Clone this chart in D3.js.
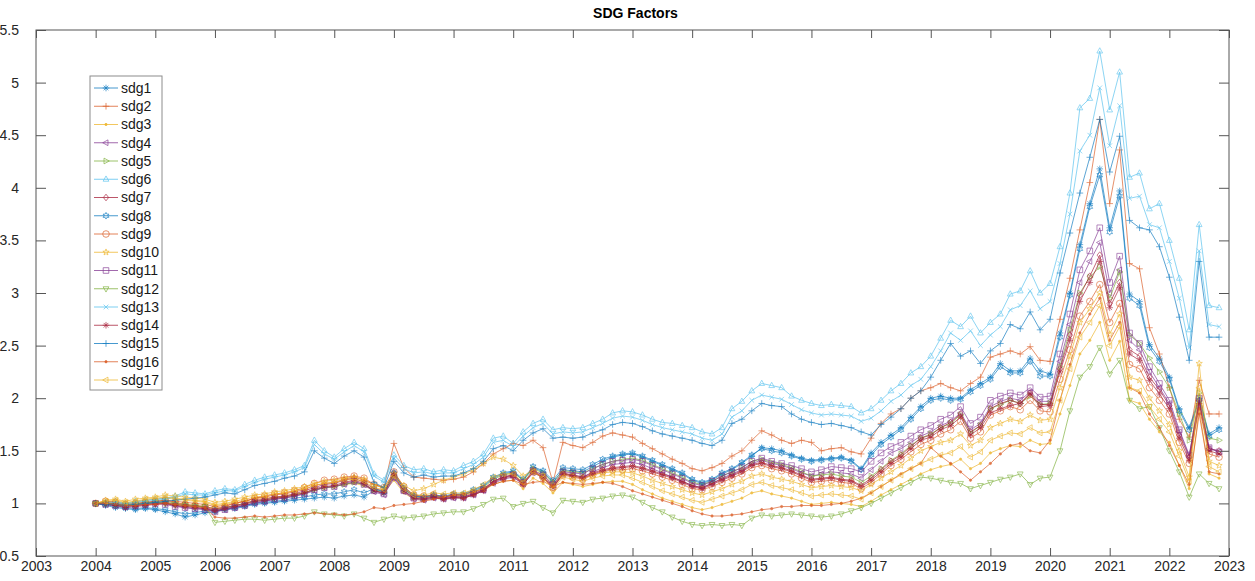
<!DOCTYPE html>
<html>
<head>
<meta charset="utf-8">
<script src="https://cdn.jsdelivr.net/npm/d3@7"></script>
<style>
  body { margin: 0; background: #fff; }
  svg { display: block; font-family: "Liberation Sans", Arial, Helvetica, sans-serif; }
</style>
</head>
<body>
<svg width="1255" height="581"></svg>
<script>
var width = 1255;
var height = 581;

// every series is sampled 6 times a year, starting January 2004
var startYear = 2004;
var pointsPerYear = 6;

var sdg1 = [
  1.00, 0.98, 0.96, 0.95, 0.94, 0.95,
  0.94, 0.92, 0.90, 0.87, 0.89, 0.91,
  0.92, 0.94, 0.95, 0.97, 0.99, 1.00,
  1.01, 1.02, 1.03, 1.04, 1.05, 1.06,
  1.05, 1.07, 1.08, 1.06, 1.12, 1.10,
  1.30, 1.15, 1.08, 1.06, 1.08, 1.06,
  1.08, 1.08, 1.12, 1.16, 1.24, 1.28,
  1.30, 1.22, 1.34, 1.30, 1.20, 1.32,
  1.31, 1.30, 1.35, 1.40, 1.44, 1.46,
  1.47, 1.44, 1.40, 1.36, 1.32, 1.28,
  1.22, 1.19, 1.22, 1.28, 1.32, 1.38,
  1.45, 1.53, 1.52, 1.50, 1.46, 1.43,
  1.41, 1.42, 1.43, 1.44, 1.41, 1.33,
  1.48, 1.58, 1.65, 1.72, 1.82, 1.92,
  2.00, 2.02, 2.00, 2.00, 2.08, 2.14,
  2.20, 2.33, 2.26, 2.26, 2.38, 2.26,
  2.23, 2.62, 3.00, 3.46, 3.85, 4.18,
  3.62, 3.97, 2.99, 2.92, 2.51, 2.38,
  2.20, 1.90, 1.72, 2.00, 1.66, 1.72
];
var sdg2 = [
  1.00, 1.01, 1.00, 0.99, 1.00, 1.01,
  1.02, 1.03, 1.02, 1.01, 1.00, 0.99,
  0.97, 0.98, 1.00, 1.02, 1.05, 1.06,
  1.08, 1.09, 1.11, 1.13, 1.17, 1.19,
  1.20, 1.23, 1.25, 1.22, 1.18, 1.15,
  1.57, 1.34, 1.25, 1.24, 1.23, 1.22,
  1.23, 1.25, 1.30, 1.38, 1.47, 1.52,
  1.57, 1.55, 1.60, 1.53, 1.20, 1.58,
  1.55, 1.53, 1.58, 1.64, 1.67, 1.65,
  1.63, 1.57, 1.52, 1.47, 1.42, 1.38,
  1.33, 1.31, 1.34, 1.38, 1.45, 1.50,
  1.60, 1.69, 1.65, 1.60, 1.57, 1.60,
  1.58, 1.50, 1.52, 1.53, 1.49, 1.47,
  1.62, 1.76, 1.85, 1.90, 2.00, 2.07,
  2.10, 2.14, 2.10, 2.07, 2.14, 2.20,
  2.39, 2.42, 2.45, 2.42, 2.49, 2.36,
  2.35, 2.75, 3.14, 3.60, 4.05, 4.65,
  3.85, 4.36, 3.28, 3.23, 2.67, 2.42,
  2.10, 1.80, 1.63, 2.17, 1.85, 1.85
];
var sdg3 = [
  1.00, 1.01, 1.02, 1.00, 1.01, 1.03,
  1.04, 1.05, 1.04, 1.03, 1.02, 1.01,
  0.98, 0.99, 1.01, 1.02, 1.04, 1.05,
  1.06, 1.07, 1.09, 1.10, 1.13, 1.15,
  1.16, 1.18, 1.19, 1.17, 1.12, 1.10,
  1.22, 1.10, 1.04, 1.03, 1.05, 1.04,
  1.05, 1.05, 1.08, 1.12, 1.18, 1.21,
  1.22, 1.14, 1.24, 1.19, 1.10, 1.20,
  1.18, 1.16, 1.18, 1.20, 1.21, 1.21,
  1.18, 1.13, 1.09, 1.05, 1.02, 0.99,
  0.96, 0.94, 0.96, 0.99, 1.02, 1.05,
  1.10, 1.12, 1.09, 1.07, 1.05, 1.02,
  0.99, 1.00, 1.01, 1.00, 0.99, 0.97,
  1.02, 1.08, 1.13, 1.18, 1.23, 1.28,
  1.32, 1.35, 1.37, 1.42, 1.33, 1.38,
  1.48, 1.52, 1.55, 1.54, 1.60, 1.56,
  1.57, 1.85, 2.12, 2.42, 2.55, 2.72,
  2.36, 2.54, 1.98, 1.95, 1.80, 1.68,
  1.58, 1.36, 1.14, 1.90, 1.28, 1.24
];
var sdg4 = [
  1.00, 1.01, 0.99, 0.98, 0.99, 1.00,
  1.01, 1.00, 0.98, 0.96, 0.95, 0.95,
  0.93, 0.94, 0.96, 0.98, 1.00, 1.02,
  1.04, 1.05, 1.07, 1.09, 1.12, 1.15,
  1.16, 1.18, 1.20, 1.18, 1.11, 1.08,
  1.24, 1.11, 1.04, 1.03, 1.05, 1.04,
  1.05, 1.05, 1.08, 1.12, 1.19, 1.23,
  1.25, 1.18, 1.29, 1.25, 1.16, 1.28,
  1.27, 1.25, 1.30, 1.34, 1.37, 1.38,
  1.39, 1.37, 1.33, 1.29, 1.25, 1.21,
  1.17, 1.15, 1.19, 1.24, 1.28, 1.32,
  1.38, 1.41, 1.38, 1.36, 1.33, 1.29,
  1.26, 1.28, 1.30, 1.29, 1.28, 1.24,
  1.32, 1.40, 1.48, 1.52, 1.58, 1.64,
  1.68, 1.74, 1.78, 1.86, 1.70, 1.76,
  1.92, 1.97, 2.00, 1.98, 2.06, 1.97,
  1.97, 2.35, 2.70, 3.10, 3.30, 3.48,
  3.00, 3.22, 2.55, 2.46, 2.25, 2.10,
  1.95, 1.68, 1.45, 1.98, 1.52, 1.49
];
var sdg5 = [
  1.00, 1.00, 0.99, 0.98, 0.99, 1.00,
  1.01, 1.02, 1.00, 0.99, 0.98, 0.97,
  0.95, 0.96, 0.98, 1.00, 1.02, 1.03,
  1.05, 1.06, 1.08, 1.10, 1.13, 1.15,
  1.16, 1.18, 1.20, 1.18, 1.13, 1.11,
  1.26, 1.13, 1.06, 1.05, 1.07, 1.06,
  1.08, 1.08, 1.11, 1.15, 1.23, 1.27,
  1.29, 1.22, 1.33, 1.29, 1.20, 1.31,
  1.30, 1.29, 1.33, 1.37, 1.40, 1.42,
  1.43, 1.41, 1.37, 1.33, 1.29, 1.25,
  1.20, 1.18, 1.21, 1.26, 1.30, 1.34,
  1.40, 1.42, 1.39, 1.37, 1.34, 1.30,
  1.26, 1.27, 1.28, 1.26, 1.25, 1.20,
  1.26, 1.33, 1.41, 1.47, 1.55, 1.62,
  1.66, 1.72, 1.76, 1.84, 1.67, 1.74,
  1.90, 1.94, 1.98, 1.95, 2.02, 1.94,
  1.95, 2.30, 2.65, 3.00, 3.15, 3.25,
  2.95, 3.20, 2.60, 2.52, 2.38, 2.25,
  2.10, 1.85, 1.60, 2.05, 1.62, 1.60
];
var sdg6 = [
  1.00, 1.01, 1.02, 1.00, 1.02, 1.03,
  1.04, 1.05, 1.07, 1.11, 1.10, 1.09,
  1.12, 1.14, 1.13, 1.18, 1.22, 1.25,
  1.27, 1.29, 1.32, 1.36, 1.60, 1.50,
  1.44, 1.52, 1.58, 1.52, 1.28, 1.22,
  1.46, 1.36, 1.32, 1.33, 1.30, 1.32,
  1.31, 1.36, 1.40, 1.47, 1.62, 1.64,
  1.57, 1.68, 1.76, 1.80, 1.70, 1.72,
  1.71, 1.72, 1.76, 1.80, 1.86, 1.88,
  1.87, 1.84, 1.80, 1.77, 1.76, 1.74,
  1.72, 1.68, 1.66, 1.72, 1.90, 1.97,
  2.07, 2.14, 2.12, 2.10, 2.02, 1.98,
  1.95, 1.93, 1.94, 1.93, 1.92, 1.86,
  1.90, 1.98, 2.07, 2.14, 2.24, 2.30,
  2.40, 2.57, 2.74, 2.68, 2.78, 2.62,
  2.72, 2.80, 2.99, 3.02, 3.21, 3.00,
  3.09, 3.44, 3.95, 4.76, 4.85, 5.30,
  4.74, 5.10, 4.10, 4.14, 3.80, 3.85,
  3.50, 3.14, 2.65, 3.65, 2.88, 2.86
];
var sdg7 = [
  1.00, 1.00, 0.99, 0.97, 0.98, 0.99,
  1.00, 1.01, 0.99, 0.98, 0.97, 0.96,
  0.94, 0.96, 0.98, 1.00, 1.03, 1.04,
  1.06, 1.07, 1.09, 1.12, 1.15, 1.18,
  1.19, 1.22, 1.24, 1.20, 1.14, 1.12,
  1.29, 1.14, 1.07, 1.05, 1.07, 1.05,
  1.07, 1.06, 1.09, 1.13, 1.21, 1.25,
  1.27, 1.19, 1.31, 1.25, 1.17, 1.29,
  1.27, 1.25, 1.29, 1.32, 1.34, 1.35,
  1.36, 1.34, 1.31, 1.28, 1.25, 1.21,
  1.17, 1.15, 1.19, 1.23, 1.27, 1.31,
  1.37, 1.39, 1.36, 1.34, 1.31, 1.27,
  1.23, 1.24, 1.25, 1.23, 1.22, 1.17,
  1.24, 1.32, 1.40, 1.46, 1.54, 1.62,
  1.65, 1.72, 1.77, 1.85, 1.68, 1.74,
  1.90, 1.95, 1.98, 1.95, 2.05, 1.94,
  1.94, 2.28, 2.60, 2.98, 3.16, 3.36,
  2.90, 3.10, 2.46, 2.40, 2.20, 2.08,
  1.93, 1.65, 1.44, 1.98, 1.52, 1.50
];
var sdg8 = [
  1.00, 0.99, 0.97, 0.96, 0.95, 0.96,
  0.95, 0.94, 0.92, 0.90, 0.91, 0.93,
  0.93, 0.95, 0.96, 0.98, 1.00, 1.01,
  1.02, 1.03, 1.05, 1.06, 1.08, 1.09,
  1.09, 1.11, 1.13, 1.10, 1.14, 1.11,
  1.28, 1.14, 1.07, 1.06, 1.08, 1.07,
  1.09, 1.09, 1.13, 1.17, 1.25, 1.29,
  1.31, 1.23, 1.35, 1.31, 1.22, 1.34,
  1.33, 1.32, 1.37, 1.42, 1.45, 1.47,
  1.48, 1.45, 1.41, 1.37, 1.33, 1.29,
  1.23, 1.20, 1.23, 1.29, 1.33, 1.39,
  1.46, 1.52, 1.50, 1.48, 1.45, 1.42,
  1.40, 1.41, 1.42, 1.43, 1.40, 1.32,
  1.46, 1.56, 1.63, 1.70, 1.80, 1.90,
  1.98, 2.00, 1.98, 1.99, 2.06, 2.12,
  2.18, 2.30, 2.24, 2.24, 2.35, 2.21,
  2.21, 2.58, 2.98, 3.42, 3.82, 4.12,
  3.58, 3.92, 2.95, 2.88, 2.48, 2.35,
  2.18, 1.88, 1.70, 1.98, 1.64, 1.70
];
var sdg9 = [
  1.00, 1.02, 1.01, 0.99, 1.00, 1.01,
  1.02, 1.03, 1.01, 0.99, 0.98, 0.97,
  0.95, 0.97, 1.00, 1.02, 1.05, 1.07,
  1.09, 1.10, 1.12, 1.15, 1.19, 1.22,
  1.23, 1.25, 1.26, 1.24, 1.18, 1.15,
  1.30, 1.16, 1.08, 1.07, 1.08, 1.06,
  1.08, 1.07, 1.10, 1.14, 1.21, 1.25,
  1.27, 1.19, 1.30, 1.25, 1.15, 1.27,
  1.25, 1.23, 1.27, 1.30, 1.32, 1.32,
  1.33, 1.31, 1.28, 1.25, 1.22, 1.18,
  1.14, 1.13, 1.16, 1.20, 1.24, 1.28,
  1.34, 1.36, 1.33, 1.31, 1.28, 1.24,
  1.20, 1.21, 1.22, 1.20, 1.19, 1.14,
  1.20, 1.28, 1.36, 1.42, 1.49, 1.56,
  1.60, 1.66, 1.70, 1.78, 1.62, 1.68,
  1.84, 1.88, 1.92, 1.89, 1.98, 1.88,
  1.87, 2.18, 2.46, 2.78, 2.92, 3.08,
  2.72, 2.90, 2.32, 2.28, 2.10, 1.98,
  1.85, 1.58, 1.38, 1.92, 1.47, 1.44
];
var sdg10 = [
  1.00, 1.03, 1.04, 1.02, 1.04, 1.05,
  1.06, 1.08, 1.07, 1.06, 1.05, 1.04,
  1.01, 1.02, 1.04, 1.06, 1.08, 1.09,
  1.11, 1.12, 1.14, 1.16, 1.19, 1.21,
  1.22, 1.24, 1.25, 1.23, 1.17, 1.15,
  1.28, 1.17, 1.12, 1.14, 1.18, 1.22,
  1.25, 1.28, 1.32, 1.38, 1.44, 1.42,
  1.36, 1.26, 1.32, 1.27, 1.18, 1.28,
  1.26, 1.24, 1.27, 1.29, 1.30, 1.30,
  1.29, 1.26, 1.22, 1.19, 1.16, 1.13,
  1.10, 1.08, 1.11, 1.14, 1.18, 1.21,
  1.26, 1.28, 1.25, 1.23, 1.21, 1.18,
  1.15, 1.16, 1.17, 1.16, 1.15, 1.12,
  1.18, 1.24, 1.30, 1.36, 1.43, 1.50,
  1.54, 1.58, 1.60, 1.66, 1.55, 1.60,
  1.72, 1.76, 1.80, 1.78, 1.84, 1.79,
  1.80, 2.10, 2.40, 2.72, 2.85, 3.00,
  2.61, 2.80, 2.20, 2.17, 2.00, 1.88,
  1.75, 1.50, 1.25, 2.33, 1.40, 1.36
];
var sdg11 = [
  1.00, 0.99, 0.98, 0.97, 0.98, 0.99,
  1.00, 0.99, 0.97, 0.96, 0.95, 0.94,
  0.92, 0.94, 0.96, 0.98, 1.01, 1.02,
  1.04, 1.05, 1.07, 1.09, 1.13, 1.15,
  1.16, 1.19, 1.21, 1.18, 1.12, 1.09,
  1.25, 1.12, 1.05, 1.04, 1.06, 1.05,
  1.06, 1.06, 1.09, 1.13, 1.21, 1.25,
  1.27, 1.20, 1.31, 1.27, 1.18, 1.30,
  1.29, 1.28, 1.33, 1.37, 1.40, 1.41,
  1.42, 1.40, 1.36, 1.32, 1.28, 1.24,
  1.19, 1.17, 1.21, 1.26, 1.30, 1.34,
  1.40, 1.43, 1.40, 1.38, 1.36, 1.33,
  1.30, 1.32, 1.35, 1.34, 1.33, 1.30,
  1.40, 1.48, 1.54, 1.58, 1.64, 1.70,
  1.74, 1.80, 1.84, 1.92, 1.76, 1.82,
  1.98, 2.02, 2.05, 2.03, 2.10, 2.01,
  2.02, 2.42, 2.80, 3.22, 3.40, 3.62,
  3.10, 3.35, 2.62, 2.52, 2.30, 2.14,
  1.98, 1.70, 1.46, 2.00, 1.53, 1.49
];
var sdg12 = [
  1.00, 1.00, 0.99, 0.98, 0.99, 1.00,
  1.01, 1.00, 0.99, 0.98, 0.97, 0.97,
  0.82, 0.83, 0.84, 0.85, 0.85, 0.84,
  0.85, 0.86, 0.86, 0.88, 0.92, 0.90,
  0.89, 0.88, 0.90, 0.86, 0.82, 0.85,
  0.88, 0.86, 0.87, 0.88, 0.90, 0.91,
  0.92, 0.92, 0.95, 0.99, 1.04, 1.05,
  0.97, 1.00, 1.02, 0.96, 0.91, 1.03,
  1.02, 1.01, 1.04, 1.05, 1.07, 1.08,
  1.06, 1.01, 0.96, 0.92, 0.87, 0.83,
  0.80, 0.79, 0.80, 0.79, 0.80, 0.79,
  0.86, 0.89, 0.88, 0.89, 0.90, 0.89,
  0.88, 0.87, 0.88, 0.90, 0.93, 0.96,
  1.00, 1.05, 1.10, 1.15, 1.20, 1.25,
  1.24, 1.22, 1.20, 1.19, 1.14, 1.17,
  1.20, 1.23, 1.25, 1.28, 1.18, 1.24,
  1.25, 1.50, 1.88, 2.20, 2.30, 2.48,
  2.23, 2.36, 1.98, 1.90, 1.92, 1.72,
  1.50, 1.30, 1.06, 1.28, 1.19, 1.14
];
var sdg13 = [
  1.00, 1.00, 1.01, 0.99, 1.01, 1.02,
  1.03, 1.04, 1.06, 1.09, 1.08, 1.08,
  1.10, 1.12, 1.12, 1.16, 1.20, 1.23,
  1.25, 1.27, 1.30, 1.34, 1.56, 1.47,
  1.42, 1.49, 1.55, 1.49, 1.26, 1.20,
  1.43, 1.33, 1.29, 1.30, 1.28, 1.29,
  1.29, 1.33, 1.37, 1.44, 1.58, 1.60,
  1.54, 1.64, 1.72, 1.76, 1.66, 1.68,
  1.67, 1.68, 1.72, 1.76, 1.81, 1.83,
  1.82, 1.79, 1.75, 1.72, 1.70, 1.68,
  1.66, 1.62, 1.60, 1.66, 1.82, 1.88,
  1.98, 2.03, 2.01, 1.99, 1.94, 1.89,
  1.86, 1.84, 1.85, 1.84, 1.83, 1.78,
  1.81, 1.88, 1.97, 2.03, 2.12, 2.18,
  2.30, 2.45, 2.62, 2.55, 2.64, 2.50,
  2.60, 2.68, 2.84, 2.88, 3.02, 2.85,
  2.92, 3.28, 3.75, 4.35, 4.50, 4.95,
  4.40, 4.78, 3.90, 3.92, 3.65, 3.62,
  3.30, 2.95, 2.48, 3.40, 2.70, 2.68
];
var sdg14 = [
  1.00, 0.99, 0.98, 0.96, 0.97, 0.98,
  0.99, 1.00, 0.98, 0.97, 0.96, 0.95,
  0.93, 0.95, 0.97, 0.99, 1.02, 1.03,
  1.05, 1.06, 1.08, 1.10, 1.14, 1.16,
  1.17, 1.20, 1.22, 1.19, 1.12, 1.10,
  1.27, 1.12, 1.05, 1.04, 1.06, 1.04,
  1.06, 1.05, 1.08, 1.12, 1.20, 1.24,
  1.26, 1.18, 1.30, 1.24, 1.15, 1.28,
  1.26, 1.24, 1.28, 1.31, 1.33, 1.34,
  1.35, 1.33, 1.30, 1.27, 1.24, 1.20,
  1.16, 1.14, 1.18, 1.22, 1.26, 1.30,
  1.36, 1.38, 1.35, 1.33, 1.30, 1.26,
  1.22, 1.23, 1.24, 1.22, 1.21, 1.16,
  1.22, 1.30, 1.38, 1.44, 1.52, 1.60,
  1.63, 1.70, 1.74, 1.82, 1.65, 1.72,
  1.86, 1.90, 1.93, 1.95, 2.04, 1.92,
  1.93, 2.25, 2.55, 2.92, 3.10, 3.30,
  2.86, 3.05, 2.42, 2.36, 2.17, 2.04,
  1.90, 1.62, 1.41, 1.95, 1.50, 1.47
];
var sdg15 = [
  1.00, 0.99, 0.99, 0.98, 0.99, 1.00,
  1.01, 1.02, 1.03, 1.04, 1.05, 1.06,
  1.08, 1.10, 1.09, 1.13, 1.17, 1.19,
  1.21, 1.24, 1.26, 1.30, 1.50, 1.43,
  1.38, 1.45, 1.50, 1.44, 1.20, 1.15,
  1.40, 1.29, 1.25, 1.27, 1.25, 1.26,
  1.26, 1.29, 1.33, 1.40, 1.52, 1.55,
  1.50, 1.60, 1.67, 1.71, 1.62, 1.63,
  1.62, 1.63, 1.67, 1.70, 1.75, 1.77,
  1.76, 1.73, 1.69, 1.66, 1.64, 1.62,
  1.60, 1.57, 1.55, 1.60, 1.76, 1.80,
  1.88, 1.95, 1.93, 1.92, 1.85, 1.80,
  1.77, 1.75, 1.76, 1.74, 1.72, 1.68,
  1.65, 1.75, 1.82, 1.90, 2.00, 2.07,
  2.20, 2.36, 2.52, 2.40, 2.45, 2.33,
  2.45, 2.52, 2.70, 2.66, 2.82, 2.65,
  2.75, 3.19, 3.57, 3.95, 4.29, 4.65,
  4.15, 4.49, 3.69, 3.62, 3.60, 3.44,
  3.15, 2.77, 2.36, 3.30, 2.58, 2.58
];
var sdg16 = [
  1.00, 1.00, 0.99, 0.98, 0.98, 0.99,
  0.99, 1.00, 0.99, 0.98, 0.97, 0.96,
  0.87, 0.86, 0.86, 0.87, 0.88, 0.87,
  0.88, 0.89, 0.89, 0.90, 0.91, 0.90,
  0.90, 0.89, 0.90, 0.92, 0.96, 0.95,
  0.98, 0.99, 1.00, 1.02, 1.04, 1.06,
  1.08, 1.09, 1.11, 1.14, 1.18, 1.21,
  1.22, 1.18, 1.20, 1.21, 1.16, 1.20,
  1.19, 1.18, 1.19, 1.20, 1.19, 1.16,
  1.12, 1.09, 1.06, 1.03, 1.00, 0.97,
  0.93, 0.90, 0.88, 0.88, 0.89, 0.90,
  0.92, 0.94, 0.95, 0.97, 0.97, 0.98,
  0.98, 0.98, 0.99, 1.00, 1.02, 1.05,
  1.10, 1.16, 1.22, 1.28, 1.33, 1.38,
  1.53, 1.45, 1.38, 1.30, 1.22, 1.30,
  1.38, 1.47, 1.55, 1.57, 1.50, 1.48,
  1.60, 1.98, 2.32, 2.62, 2.80, 2.95,
  2.55, 2.72, 2.10, 2.05, 1.85, 1.72,
  1.55, 1.36, 1.18, 1.85, 1.30, 1.28
];
var sdg17 = [
  1.00, 1.02, 1.03, 1.01, 1.02, 1.04,
  1.05, 1.06, 1.05, 1.04, 1.03, 1.02,
  0.99, 1.00, 1.02, 1.04, 1.06, 1.07,
  1.09, 1.10, 1.12, 1.14, 1.17, 1.19,
  1.20, 1.22, 1.23, 1.21, 1.15, 1.13,
  1.26, 1.14, 1.08, 1.08, 1.10, 1.09,
  1.10, 1.10, 1.13, 1.18, 1.25, 1.28,
  1.28, 1.20, 1.30, 1.24, 1.14, 1.25,
  1.23, 1.21, 1.24, 1.26, 1.27, 1.27,
  1.24, 1.20, 1.16, 1.12, 1.09, 1.06,
  1.03, 1.01, 1.04, 1.07, 1.10, 1.13,
  1.18, 1.20, 1.17, 1.15, 1.13, 1.10,
  1.07, 1.08, 1.09, 1.08, 1.07, 1.04,
  1.10, 1.16, 1.22, 1.27, 1.33, 1.38,
  1.42, 1.46, 1.48, 1.54, 1.44, 1.49,
  1.60, 1.64, 1.67, 1.66, 1.72, 1.67,
  1.68, 1.98, 2.28, 2.58, 2.72, 2.88,
  2.50, 2.68, 2.10, 2.07, 1.92, 1.80,
  1.68, 1.45, 1.21, 2.10, 1.35, 1.30
];

var seriesNames = ["sdg1", "sdg2", "sdg3", "sdg4", "sdg5", "sdg6", "sdg7", "sdg8", "sdg9",
                   "sdg10", "sdg11", "sdg12", "sdg13", "sdg14", "sdg15", "sdg16", "sdg17"];
var seriesValues = [sdg1, sdg2, sdg3, sdg4, sdg5, sdg6, sdg7, sdg8, sdg9,
                    sdg10, sdg11, sdg12, sdg13, sdg14, sdg15, sdg16, sdg17];
var xTickYears = [2003, 2004, 2005, 2006, 2007, 2008, 2009, 2010, 2011, 2012, 2013,
                  2014, 2015, 2016, 2017, 2018, 2019, 2020, 2021, 2022, 2023];
var yTickValues = [0.5, 1, 1.5, 2, 2.5, 3, 3.5, 4, 4.5, 5, 5.5];

// matlab default colour order and the marker of each series
var colorOrder = ["#0072BD", "#D95319", "#EDB120", "#7E2F8E", "#77AC30", "#4DBEEE", "#A2142F"];
var markerTypes = ["*", "+", ".", "<", ">", "^", "d", "h", "o", "p", "s", "v", "x", "*", "+", ".", "<"];

var plot = {left: 36, right: 1229, top: 30, bottom: 556};

var svg = d3.select("svg");

svg.append("rect")
   .attr("width", width)
   .attr("height", height)
   .attr("fill", "#fff");

var x = d3.scaleLinear()
          .domain([2003, 2023])
          .range([plot.left, plot.right]);

var y = d3.scaleLinear()
          .domain([0.5, 5.5])
          .range([plot.bottom, plot.top]);

function markerPath(type, r) {
  var a = r * 0.7071;
  switch (type) {
    case "*":
      return "M" + -r + ",0H" + r + "M0," + -r + "V" + r +
             "M" + -a + "," + -a + "L" + a + "," + a + "M" + -a + "," + a + "L" + a + "," + -a;
    case "+":
      return "M" + -r + ",0H" + r + "M0," + -r + "V" + r;
    case "x":
      return "M" + -a + "," + -a + "L" + a + "," + a + "M" + -a + "," + a + "L" + a + "," + -a;
    case "o":
      return "M" + r + ",0A" + r + "," + r + " 0 1,1 " + -r + ",0A" + r + "," + r + " 0 1,1 " + r + ",0Z";
    case ".":
      var d = r * 0.35;
      return "M" + d + ",0A" + d + "," + d + " 0 1,1 " + -d + ",0A" + d + "," + d + " 0 1,1 " + d + ",0Z";
    case "s":
      var s = r * 0.85;
      return "M" + -s + "," + -s + "H" + s + "V" + s + "H" + -s + "Z";
    case "d":
      return "M0," + -r + "L" + r * 0.8 + ",0L0," + r + "L" + -r * 0.8 + ",0Z";
    case "^":
      return "M0," + -r + "L" + r * 0.87 + "," + r * 0.6 + "L" + -r * 0.87 + "," + r * 0.6 + "Z";
    case "v":
      return "M0," + r + "L" + r * 0.87 + "," + -r * 0.6 + "L" + -r * 0.87 + "," + -r * 0.6 + "Z";
    case "<":
      return "M" + -r + ",0L" + r * 0.6 + "," + -r * 0.87 + "L" + r * 0.6 + "," + r * 0.87 + "Z";
    case ">":
      return "M" + r + ",0L" + -r * 0.6 + "," + -r * 0.87 + "L" + -r * 0.6 + "," + r * 0.87 + "Z";
    case "p":
    case "h":
      var n = type === "p" ? 5 : 6;
      var inner = type === "p" ? 0.42 : 0.55;
      var pts = d3.range(n * 2).map(function(k) {
        var rad = k % 2 === 0 ? r : r * inner;
        var ang = -Math.PI / 2 + k * Math.PI / n;
        return [rad * Math.cos(ang), rad * Math.sin(ang)];
      });
      return "M" + pts.join("L") + "Z";
  }
  return "";
}

var markerSize = 3.3;

var line = d3.line()
             .x(function(d, i) { return x(startYear + i / pointsPerYear); })
             .y(function(d) { return y(d); });

// series, drawn in matlab order: sdg1 at the bottom, sdg17 on top
seriesValues.forEach(function(values, s) {
  var color = colorOrder[s % colorOrder.length];
  var type = markerTypes[s];
  var g = svg.append("g")
             .attr("class", "series")
             .attr("opacity", 0.8);

  g.append("path")
   .datum(values)
   .attr("d", line)
   .attr("fill", "none")
   .attr("stroke", color)
   .attr("stroke-width", 0.8);

  g.selectAll("path.marker")
   .data(values)
   .enter()
     .append("path")
     .attr("class", "marker")
     .attr("transform", function(d, i) {
       return "translate(" + x(startYear + i / pointsPerYear) + "," + y(d) + ")";
     })
     .attr("d", markerPath(type, markerSize))
     .attr("fill", type === "." ? color : "none")
     .attr("stroke", color)
     .attr("stroke-width", 0.7);
});

// axes, matlab style: box all round, ticks pointing in
var axisColor = "#555";

svg.append("rect")
   .attr("x", plot.left)
   .attr("y", plot.top)
   .attr("width", plot.right - plot.left)
   .attr("height", plot.bottom - plot.top)
   .attr("fill", "none")
   .attr("stroke", axisColor)
   .attr("stroke-width", 1);

svg.append("g")
   .attr("transform", "translate(0," + plot.bottom + ")")
   .call(d3.axisBottom(x)
           .tickValues(xTickYears)
           .tickFormat(d3.format("d"))
           .tickSizeInner(-8)
           .tickSizeOuter(0)
           .tickPadding(5));

svg.append("g")
   .attr("transform", "translate(0," + plot.top + ")")
   .call(d3.axisTop(x)
           .tickValues(xTickYears)
           .tickFormat("")
           .tickSizeInner(-8)
           .tickSizeOuter(0));

svg.append("g")
   .attr("transform", "translate(" + plot.left + ",0)")
   .call(d3.axisLeft(y)
           .tickValues(yTickValues)
           .tickFormat(function(d) { return String(d); })
           .tickSizeInner(-10)
           .tickSizeOuter(0)
           .tickPadding(17));

svg.append("g")
   .attr("transform", "translate(" + plot.right + ",0)")
   .call(d3.axisRight(y)
           .tickValues(yTickValues)
           .tickFormat("")
           .tickSizeInner(-10)
           .tickSizeOuter(0));

svg.selectAll(".domain").remove();
svg.selectAll(".tick line").attr("stroke", axisColor);
svg.selectAll(".tick text")
   .attr("fill", "#262626")
   .style("font-size", "14px")
   .style("font-family", "'Liberation Sans', Arial, sans-serif");

svg.append("text")
   .attr("x", (plot.left + plot.right) / 2 + 3)
   .attr("y", 18)
   .attr("text-anchor", "middle")
   .attr("fill", "#000")
   .style("font-size", "14px")
   .style("font-weight", "bold")
   .text("SDG Factors");

// legend
var legend = {x: 90, y: 76, width: 72, height: 314, firstRow: 88, rowHeight: 18.25};

var lg = svg.append("g");

lg.append("rect")
  .attr("x", legend.x)
  .attr("y", legend.y)
  .attr("width", legend.width)
  .attr("height", legend.height)
  .attr("fill", "#fff")
  .attr("stroke", "#8c8c8c")
  .attr("stroke-width", 1);

var rows = lg.selectAll("g.row")
             .data(seriesNames)
             .enter()
             .append("g")
               .attr("class", "row")
               .attr("opacity", 0.9)
               .attr("transform", function(d, i) {
                 return "translate(" + legend.x + "," + (legend.firstRow + i * legend.rowHeight) + ")";
               });

rows.append("line")
    .attr("x1", 4)
    .attr("x2", 28)
    .attr("stroke", function(d, i) { return colorOrder[i % colorOrder.length]; })
    .attr("stroke-width", 0.8);

rows.append("path")
    .attr("transform", "translate(16,0)")
    .attr("d", function(d, i) { return markerPath(markerTypes[i], markerSize); })
    .attr("fill", function(d, i) { return markerTypes[i] === "." ? colorOrder[i % colorOrder.length] : "none"; })
    .attr("stroke", function(d, i) { return colorOrder[i % colorOrder.length]; })
    .attr("stroke-width", 0.7);

rows.append("text")
    .attr("x", 31)
    .attr("dy", "0.35em")
    .attr("fill", "#000")
    .style("font-size", "14px")
    .text(function(d) { return d; });
</script>
</body>
</html>
